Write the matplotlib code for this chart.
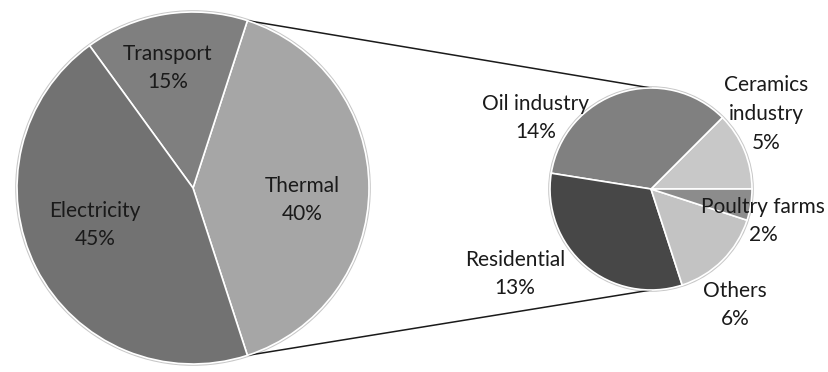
import numpy as np
import matplotlib.pyplot as plt

# Основной круг
main_labels = ['Thermal', 'Transport', 'Electricity']
main_values = [40, 15, 45]
main_colors = ['#a6a6a6', '#7f7f7f', '#727272']

# Расшифровка сектора Thermal
sub_labels = ['Ceramics\nindustry', 'Oil industry', 'Residential', 'Others', 'Poultry farms']
sub_values = [5, 14, 13, 6, 2]
sub_colors = ['#c8c8c8', '#808080', '#474747', '#c3c3c3', '#8c8c8c']

W, H = 829, 372
fig = plt.figure(figsize=(W / 100, H / 100), dpi=100)
ax = fig.add_axes([0, 0, 1, 1])

c1, r1 = (193, H - 188), 176
c2, r2 = (651, H - 189), 101
start1 = -main_values[0] / 100 * 360 / 2

text_kw = dict(ha='center', va='center', fontsize=15, family='Lato',
               color='#1a1a1a', linespacing=1.55)

w1, _ = ax.pie(main_values, colors=main_colors, startangle=start1, center=c1,
               radius=r1, counterclock=True,
               wedgeprops=dict(edgecolor='white', linewidth=1.2))
w2, _ = ax.pie(sub_values, colors=sub_colors, startangle=0, center=c2,
               radius=r2, counterclock=True,
               wedgeprops=dict(edgecolor='white', linewidth=1.2))

# pie() переопределяет границы осей, поэтому задаём их после
ax.set_xlim(0, W)
ax.set_ylim(0, H)
ax.set_aspect('equal')
ax.axis('off')

# Тонкий контур вокруг кругов
for c, r in [(c1, r1), (c2, r2)]:
    ax.add_patch(plt.Circle(c, r + 1, fill=False, edgecolor='#c8c8c8', lw=1.2, zorder=0))

# Соединительные линии от сектора Thermal к правому кругу
th = w1[0]
for ang, ang2 in [(th.theta2, 90), (th.theta1, -90)]:
    a, b = np.deg2rad(ang), np.deg2rad(ang2)
    ax.plot([c1[0] + r1 * np.cos(a), c2[0] + r2 * np.cos(b)],
            [c1[1] + r1 * np.sin(a), c2[1] + r2 * np.sin(b)],
            color='#1a1a1a', lw=1.1, zorder=0)

# Подписи: смещение от центра соответствующего круга
main_pos = [(109, -12), (-25, 120), (-98, -37)]
for lab, v, (dx, dy) in zip(main_labels, main_values, main_pos):
    ax.text(c1[0] + dx, c1[1] + dy, f'{lab}\n{v}%', **text_kw)

sub_pos = [(115, 75), (-115, 71), (-136, -85), (84, -116), (112, -32)]
for lab, v, (dx, dy) in zip(sub_labels, sub_values, sub_pos):
    ax.text(c2[0] + dx, c2[1] + dy, f'{lab}\n{v}%', **text_kw)

fig.savefig('out.png', dpi=100)
